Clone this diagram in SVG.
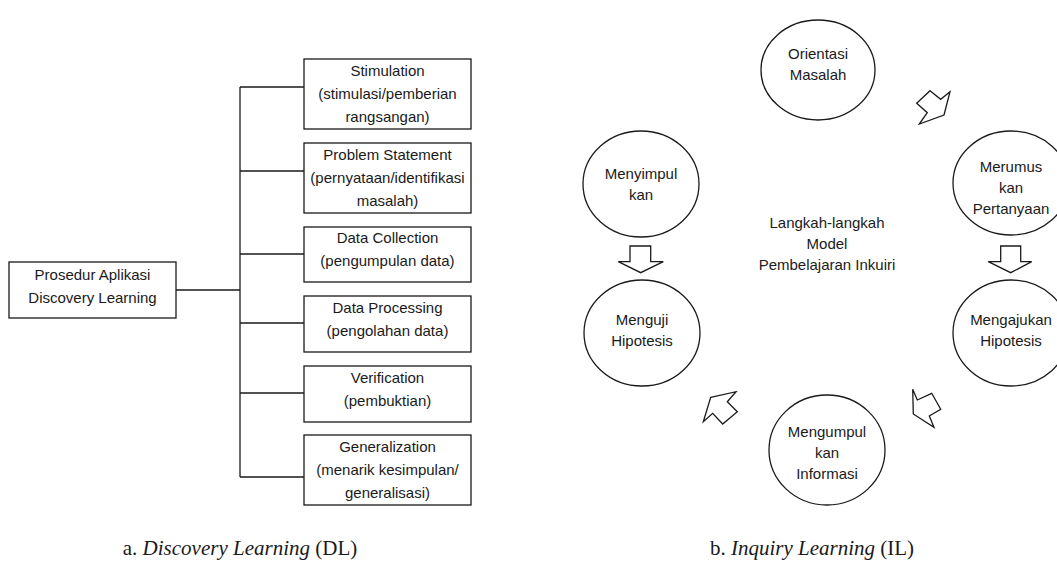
<svg xmlns="http://www.w3.org/2000/svg" width="1057" height="579" viewBox="0 0 1057 579">
<style>
.box{fill:#fff;stroke:#1a1a1a;stroke-width:1.3}
.ell{fill:#fff;stroke:#1a1a1a;stroke-width:1.3}
.arr{fill:#fff;stroke:#1a1a1a;stroke-width:1.3;stroke-linejoin:miter}
.con{fill:none;stroke:#1a1a1a;stroke-width:1.3}
.t{font-family:"Liberation Sans",Arial,sans-serif;font-size:15px;fill:#1a1a1a;text-anchor:middle}
.cap{font-family:"Liberation Serif","Times New Roman",serif;font-size:21px;fill:#1a1a1a;text-anchor:middle}
</style>
<rect width="1057" height="579" fill="#fff"/>
<g id="connectors">
<path class="con" d="M176 290H240M240 87V477M240 87H304M240 171H304M240 254H304M240 323H304M240 393H304M240 477H304"/>
<polygon class="arr" points="930,90.7 940.7,99.3 950,91.7 944,115 919.3,124 927.3,112.7 916.7,103.3"/>
<polygon class="arr" points="1000.7,246 1020.7,246 1020.7,261.7 1031.7,261.7 1010.7,272.7 988.3,261.7 1000.7,261.7"/>
<polygon class="arr" points="912.7,389.3 917.3,400 931.7,393.3 940.7,409.3 929.3,416 934,427.3 913.3,414"/>
<polygon class="arr" points="710.7,397.3 736,391.7 727.3,401.7 737.3,411.7 722.7,424 712.7,413.3 703.3,421.7"/>
<polygon class="arr" points="630,246 650.7,246 650.7,261.7 663.3,261.7 640.7,272.7 618.3,261.7 630,261.7"/>
</g>
<g id="root"><rect class="box" x="9" y="262" width="167" height="56"/><text class="t" x="92.5" y="280">Prosedur Aplikasi</text><text class="t" x="92.5" y="303">Discovery Learning</text></g>
<g id="stimulation"><rect class="box" x="304" y="59" width="167" height="70"/><text class="t" x="387.5" y="76">Stimulation</text><text class="t" x="387.5" y="99">(stimulasi/pemberian</text><text class="t" x="387.5" y="122">rangsangan)</text></g>
<g id="problem"><rect class="box" x="304" y="143" width="167" height="70"/><text class="t" x="387.5" y="160">Problem Statement</text><text class="t" x="387.5" y="183">(pernyataan/identifikasi</text><text class="t" x="387.5" y="206">masalah)</text></g>
<g id="collection"><rect class="box" x="304" y="227" width="167" height="55"/><text class="t" x="387.5" y="243">Data Collection</text><text class="t" x="387.5" y="266">(pengumpulan data)</text></g>
<g id="processing"><rect class="box" x="304" y="296" width="167" height="56"/><text class="t" x="387.5" y="313">Data Processing</text><text class="t" x="387.5" y="336">(pengolahan data)</text></g>
<g id="verification"><rect class="box" x="304" y="366" width="167" height="56"/><text class="t" x="387.5" y="383">Verification</text><text class="t" x="387.5" y="406">(pembuktian)</text></g>
<g id="generalization"><rect class="box" x="304" y="435" width="167" height="70"/><text class="t" x="387.5" y="452">Generalization</text><text class="t" x="387.5" y="475">(menarik kesimpulan/</text><text class="t" x="387.5" y="498">generalisasi)</text></g>
<g id="orientasi"><ellipse class="ell" cx="818" cy="70" rx="57" ry="50"/><text class="t" x="818" y="59">Orientasi</text><text class="t" x="818" y="80">Masalah</text></g>
<g id="merumuskan"><ellipse class="ell" cx="1011" cy="183" rx="58" ry="52"/><text class="t" x="1011" y="172">Merumus</text><text class="t" x="1011" y="193">kan</text><text class="t" x="1011" y="214">Pertanyaan</text></g>
<g id="mengajukan"><ellipse class="ell" cx="1011" cy="333" rx="58" ry="53"/><text class="t" x="1011" y="325">Mengajukan</text><text class="t" x="1011" y="346">Hipotesis</text></g>
<g id="mengumpulkan"><ellipse class="ell" cx="827" cy="450" rx="58" ry="55"/><text class="t" x="827" y="437">Mengumpul</text><text class="t" x="827" y="458">kan</text><text class="t" x="827" y="479">Informasi</text></g>
<g id="menguji"><ellipse class="ell" cx="642" cy="333" rx="58" ry="53"/><text class="t" x="642" y="325">Menguji</text><text class="t" x="642" y="346">Hipotesis</text></g>
<g id="menyimpulkan"><ellipse class="ell" cx="641" cy="184" rx="58" ry="53"/><text class="t" x="641" y="179">Menyimpul</text><text class="t" x="641" y="200">kan</text></g>
<g id="center-label"><text class="t" x="827" y="228">Langkah-langkah</text><text class="t" x="827" y="249">Model</text><text class="t" x="827" y="270">Pembelajaran Inkuiri</text></g>
<g id="captions">
<text class="cap" x="240" y="555">a. <tspan font-style="italic">Discovery Learning</tspan> (DL)</text>
<text class="cap" x="812" y="555">b. <tspan font-style="italic">Inquiry Learning</tspan> (IL)</text>
</g>
</svg>
